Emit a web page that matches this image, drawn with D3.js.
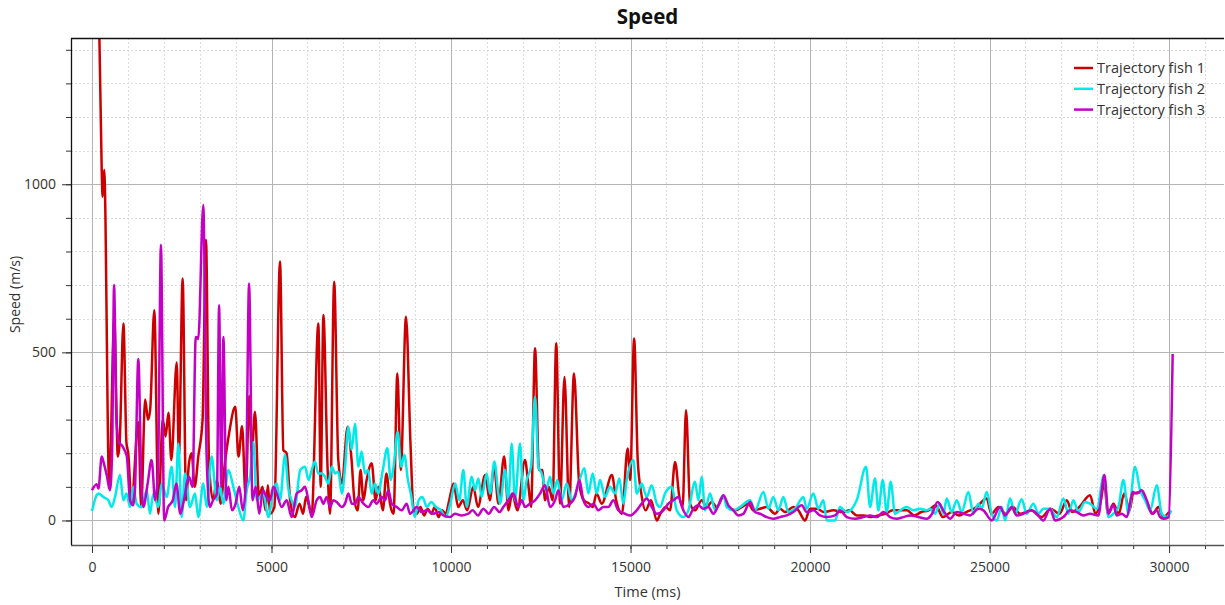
<!DOCTYPE html>
<html><head><meta charset="utf-8">
<script src="https://cdn.jsdelivr.net/npm/d3@7/dist/d3.min.js"></script>
<style>body{margin:0;background:#fff;} text{font-family:'Open Sans',sans-serif;}</style>
</head><body><svg id="chart" width="1225" height="605"></svg>
<script>
const chartTitle = "Speed";
const xAxisTitle = "Time (ms)";
const yAxisTitle = "Speed (m/s)";
const seriesNames = ["Trajectory fish 1", "Trajectory fish 2", "Trajectory fish 3"];
const seriesColors = ["#cc0000", "#00eaea", "#c400c4"];
const xMajorTicks = [0, 5000, 10000, 15000, 20000, 25000, 30000];
const yMajorTicks = [0, 500, 1000];

// [time ms, speed m/s]
const fish1 = [[130,1900],[270,1043],[295,963],[340,1043],[480,100],[620,600],[720,190],[770,230],[875,586],[960,230],[1010,200],[1100,50],[1290,293],[1370,40],[1480,360],[1560,300],[1620,330],[1735,625],[1850,20],[1970,300],[2050,250],[2130,320],[2210,180],[2360,470],[2420,190],[2525,720],[2620,60],[2700,170],[2775,200],[2860,100],[2960,190],[3080,300],[3175,835],[3260,170],[3370,60],[3480,120],[3580,50],[3700,170],[3820,260],[3990,338],[4080,190],[4180,280],[4280,70],[4380,370],[4450,200],[4540,323],[4650,70],[4750,100],[4830,30],[4900,105],[4960,20],[5080,40],[5237,770],[5330,209],[5420,200],[5520,60],[5650,10],[5780,50],[5880,20],[5960,70],[6120,20],[6305,586],[6370,100],[6445,611],[6560,160],[6630,20],[6745,710],[6860,180],[6960,110],[7120,279],[7230,180],[7310,60],[7400,30],[7480,150],[7560,60],[7650,120],[7790,170],[7900,60],[7980,100],[8100,30],[8200,140],[8300,50],[8400,20],[8505,437],[8600,150],[8746,606],[8870,230],[8950,40],[9050,20],[9150,40],[9250,15],[9350,35],[9450,20],[9550,40],[9650,10],[9750,30],[9850,20],[9950,60],[10070,110],[10200,40],[10330,60],[10450,30],[10620,100],[10750,40],[10950,135],[11080,60],[11200,160],[11320,50],[11480,190],[11600,30],[11700,80],[11850,30],[12060,180],[12150,110],[12230,40],[12340,512],[12450,150],[12540,150],[12620,60],[12720,100],[12830,60],[12930,527],[13036,50],[13160,427],[13290,40],[13425,437],[13570,110],[13700,60],[13850,50],[13950,40],[14050,80],[14200,50],[14480,135],[14600,60],[14760,20],[14920,214],[14990,120],[15100,541],[15200,180],[15300,80],[15420,30],[15570,60],[15730,0],[15830,20],[15980,40],[16100,30],[16240,174],[16360,70],[16450,40],[16546,328],[16657,50],[16797,30],[16983,60],[17122,40],[17261,55],[17400,40],[17586,70],[17725,40],[17911,30],[18097,40],[18282,50],[18421,30],[18607,35],[18793,40],[19025,20],[19164,35],[19304,25],[19536,40],[19675,30],[19861,0],[20000,35],[20200,35],[20380,25],[20650,30],[20900,25],[21100,30],[21300,15],[21500,15],[21700,10],[21900,15],[22100,20],[22300,30],[22500,30],[22700,30],[22900,15],[23100,25],[23300,30],[23500,45],[23700,10],[23950,25],[24150,15],[24350,25],[24640,40],[24920,65],[25050,20],[25250,40],[25450,20],[25650,40],[25850,20],[26150,30],[26450,10],[26700,35],[26950,20],[27150,60],[27300,25],[27500,40],[27800,75],[27950,20],[28100,60],[28190,110],[28300,20],[28450,50],[28600,20],[28750,80],[28900,30],[29000,80],[29240,85],[29400,50],[29550,20],[29700,40],[29840,10],[30000,25]];

const fish2 = [[0,28],[176,80],[316,70],[455,60],[548,40],[641,70],[780,135],[873,60],[966,80],[1058,40],[1151,100],[1244,50],[1383,40],[1523,90],[1616,20],[1708,80],[1848,40],[1941,110],[2080,70],[2219,160],[2312,40],[2405,229],[2498,10],[2591,140],[2730,40],[2869,80],[2962,10],[3101,110],[3194,40],[3333,190],[3473,60],[3565,100],[3658,50],[3798,150],[3937,100],[4076,40],[4215,0],[4308,90],[4401,130],[4494,233],[4587,60],[4773,80],[4912,10],[5051,90],[5144,110],[5237,60],[5376,195],[5460,100],[5560,60],[5650,40],[5800,150],[5935,160],[6030,120],[6120,150],[6212,175],[6300,140],[6400,140],[6490,130],[6580,110],[6680,160],[6770,140],[6860,145],[6960,80],[7050,160],[7140,279],[7230,210],[7326,288],[7420,160],[7510,205],[7600,140],[7690,150],[7790,80],[7880,110],[7970,80],[8100,150],[8227,215],[8320,120],[8400,160],[8514,264],[8610,160],[8700,195],[8800,120],[8880,80],[8990,10],[9100,60],[9200,70],[9330,40],[9450,55],[9580,40],[9720,30],[9850,10],[9980,50],[10115,110],[10230,60],[10344,150],[10437,41],[10576,130],[10669,90],[10762,125],[10855,70],[10994,140],[11086,80],[11207,175],[11318,80],[11365,50],[11504,150],[11597,60],[11690,229],[11782,60],[11922,229],[12015,60],[12107,120],[12228,160],[12340,368],[12432,160],[12525,140],[12646,90],[12758,130],[12850,80],[12962,120],[13083,60],[13222,110],[13361,60],[13500,90],[13714,155],[13825,80],[13946,140],[14057,80],[14150,120],[14290,70],[14429,100],[14568,80],[14688,125],[14800,50],[14893,120],[15080,180],[15172,80],[15311,110],[15450,70],[15590,105],[15729,50],[15822,40],[15961,80],[16147,100],[16286,30],[16472,10],[16611,30],[16797,115],[16890,60],[16983,130],[17075,30],[17214,80],[17354,30],[17586,75],[17679,40],[17865,30],[18050,40],[18329,60],[18468,30],[18700,85],[18840,35],[18979,70],[19118,30],[19257,70],[19396,25],[19582,35],[19814,70],[19907,35],[20093,80],[20232,35],[20372,60],[20464,0],[20696,0],[20836,40],[21021,25],[21300,60],[21560,160],[21671,40],[21810,125],[21903,30],[22024,120],[22135,25],[22247,115],[22367,20],[22507,30],[22693,40],[22879,30],[23064,35],[23250,30],[23343,35],[23482,20],[23621,50],[23714,20],[23807,65],[23946,25],[24086,60],[24225,25],[24410,85],[24550,20],[24689,50],[24782,35],[24921,85],[25060,20],[25200,0],[25339,40],[25432,0],[25571,65],[25710,20],[25896,63],[26035,20],[26221,50],[26360,20],[26500,35],[26685,35],[26871,10],[27057,65],[27196,20],[27335,60],[27474,25],[27660,55],[27799,50],[27985,35],[28189,135],[28310,10],[28450,20],[28589,40],[28728,120],[28868,20],[29053,160],[29192,90],[29332,60],[29471,30],[29657,105],[29796,20],[29935,10],[30060,30]];

const fish3 = [[0,90],[130,108],[180,95],[270,190],[330,170],[410,135],[500,90],[560,200],[615,700],[680,300],[760,230],[830,224],[900,210],[970,190],[1060,60],[1150,45],[1200,100],[1290,480],[1380,100],[1430,40],[1550,110],[1660,180],[1760,60],[1840,150],[1920,820],[2010,0],[2120,40],[2250,60],[2350,110],[2460,20],[2560,60],[2700,130],[2800,100],[2890,546],[2960,540],[3100,938],[3190,200],[3280,40],[3370,60],[3480,80],[3540,640],[3600,100],[3660,546],[3740,60],[3800,100],[3900,30],[4000,50],[4100,100],[4200,30],[4290,120],[4375,705],[4470,60],[4560,100],[4660,20],[4760,90],[4860,70],[4958,60],[5051,100],[5144,80],[5283,40],[5422,60],[5562,10],[5701,80],[5840,90],[5933,100],[6026,60],[6119,10],[6258,60],[6351,70],[6444,50],[6537,70],[6630,40],[6723,60],[6815,55],[6955,40],[7048,50],[7141,80],[7234,50],[7327,50],[7419,70],[7559,50],[7698,40],[7837,60],[7930,50],[8069,70],[8162,60],[8255,90],[8348,50],[8487,40],[8626,30],[8765,50],[8858,20],[9044,40],[9183,25],[9322,30],[9508,20],[9647,25],[9786,15],[9972,10],[10111,20],[10297,15],[10483,20],[10600,30],[10750,15],[10900,35],[11050,20],[11200,40],[11350,25],[11458,40],[11597,60],[11736,80],[11875,40],[11968,60],[12061,40],[12200,50],[12340,60],[12479,80],[12618,105],[12758,40],[12897,60],[12990,90],[13129,40],[13315,50],[13454,70],[13575,120],[13686,60],[13825,40],[13965,50],[14104,30],[14243,40],[14382,40],[14522,60],[14661,30],[14847,20],[14986,15],[15172,30],[15311,50],[15450,65],[15590,40],[15729,20],[15914,30],[16054,50],[16193,60],[16332,70],[16472,30],[16611,10],[16750,35],[16890,45],[17029,35],[17168,40],[17307,20],[17447,45],[17586,75],[17725,45],[17865,30],[18004,15],[18143,20],[18329,55],[18468,25],[18607,20],[18793,10],[18979,5],[19164,10],[19350,15],[19536,25],[19768,45],[19907,25],[20093,30],[20279,15],[20464,10],[20696,15],[20836,30],[21021,10],[21253,5],[21486,10],[21671,15],[21857,10],[22043,25],[22228,10],[22414,5],[22600,10],[22786,15],[23018,10],[23250,5],[23400,20],[23552,55],[23738,25],[23900,5],[24086,25],[24271,20],[24457,15],[24689,35],[24828,30],[25060,0],[25293,40],[25432,15],[25617,40],[25757,15],[25942,20],[26175,30],[26314,20],[26500,0],[26685,35],[26825,0],[27057,10],[27242,30],[27428,25],[27614,15],[27799,20],[28031,15],[28198,135],[28310,20],[28450,45],[28543,15],[28682,20],[28821,10],[28988,85],[29100,80],[29240,90],[29379,60],[29518,20],[29657,30],[29750,10],[29843,5],[29990,10],[30100,495]];

const seriesData = [fish1, fish2, fish3];

const m = {left: 71, right: 1224, top: 38, bottom: 545};
const svg = d3.select("#chart");
const x = d3.scaleLinear().domain([-585, 31530]).range([m.left, m.right]);
const y = d3.scaleLinear().domain([-73, 1435]).range([m.bottom, m.top]);

const xMinor = d3.range(0, 31001, 1000);
const yMinor = d3.range(0, 1401, 100);

// grid
const grid = svg.append("g");
grid.selectAll(".vmin").data(xMinor.filter(d => !xMajorTicks.includes(d))).join("line")
  .attr("x1", d => Math.round(x(d)) + 0.5).attr("x2", d => Math.round(x(d)) + 0.5).attr("y1", m.top).attr("y2", m.bottom)
  .attr("stroke", "#dcdcdc").attr("stroke-dasharray", "2,2").attr("stroke-width", 1);
grid.selectAll(".hmin").data(yMinor.filter(d => !yMajorTicks.includes(d))).join("line")
  .attr("y1", d => Math.round(y(d)) + 0.5).attr("y2", d => Math.round(y(d)) + 0.5).attr("x1", m.left).attr("x2", m.right)
  .attr("stroke", "#dcdcdc").attr("stroke-dasharray", "2,2").attr("stroke-width", 1);
grid.selectAll(".vmaj").data(xMajorTicks).join("line")
  .attr("x1", d => Math.round(x(d)) + 0.5).attr("x2", d => Math.round(x(d)) + 0.5).attr("y1", m.top).attr("y2", m.bottom)
  .attr("stroke", "#b4b4b4").attr("stroke-width", 1);
grid.selectAll(".hmaj").data(yMajorTicks).join("line")
  .attr("y1", d => Math.round(y(d)) + 0.5).attr("y2", d => Math.round(y(d)) + 0.5).attr("x1", m.left).attr("x2", m.right)
  .attr("stroke", "#b4b4b4").attr("stroke-width", 1);

// series
svg.append("clipPath").attr("id", "clip").append("rect")
  .attr("x", m.left).attr("y", m.top).attr("width", m.right - m.left).attr("height", m.bottom - m.top);
const line = d3.line().x(d => x(d[0])).y(d => y(d[1])).curve(d3.curveMonotoneX);
const plot = svg.append("g").attr("clip-path", "url(#clip)");
seriesData.forEach((s, i) => {
  plot.append("path").datum(s).attr("d", line).attr("fill", "none")
    .attr("stroke", seriesColors[i]).attr("stroke-width", 2.5).attr("stroke-linejoin", "round");
});

// axes
const xAxisMinor = d3.axisBottom(x).tickValues(xMinor).tickSize(4).tickFormat("");
const xAxis = d3.axisBottom(x).tickValues(xMajorTicks).tickSize(8).tickPadding(9).tickFormat(d3.format("d"));
const yAxisMinor = d3.axisLeft(y).tickValues(yMinor).tickSize(5).tickFormat("");
const yAxis = d3.axisLeft(y).tickValues(yMajorTicks).tickSize(9).tickPadding(6).tickFormat(d3.format("d"));

const gx = svg.append("g").attr("transform", `translate(0,${m.bottom})`);
gx.call(xAxisMinor); gx.append("g").call(xAxis);
gx.selectAll(".domain").remove();
gx.selectAll("line").attr("stroke", "#333");
gx.selectAll("text").attr("font-size", 14).attr("fill", "#333").attr("font-family", "'Open Sans',sans-serif");
svg.append("line").attr("x1", m.left).attr("x2", m.right).attr("y1", m.bottom + 0.5).attr("y2", m.bottom + 0.5)
  .attr("stroke", "#555").attr("stroke-width", 1.6);

const gy = svg.append("g").attr("transform", `translate(${m.left},0)`);
gy.call(yAxisMinor); gy.append("g").call(yAxis);
gy.selectAll(".domain").remove();
gy.selectAll("line").attr("stroke", "#333");
gy.selectAll("text").attr("font-size", 14).attr("fill", "#333").attr("font-family", "'Open Sans',sans-serif");
svg.append("line").attr("x1", m.left + 0.5).attr("x2", m.left + 0.5).attr("y1", m.top).attr("y2", m.bottom)
  .attr("stroke", "#111").attr("stroke-width", 1.3);
svg.append("line").attr("x1", m.left).attr("x2", m.right).attr("y1", m.top + 0.5).attr("y2", m.top + 0.5)
  .attr("stroke", "#111").attr("stroke-width", 1.3);

// titles
svg.append("text").attr("x", (m.left + m.right) / 2).attr("y", 24).attr("text-anchor", "middle")
  .attr("font-size", 20.5).attr("font-weight", "bold").attr("fill", "#111").text(chartTitle);
svg.append("text").attr("x", (m.left + m.right) / 2).attr("y", 597).attr("text-anchor", "middle")
  .attr("font-size", 14.5).attr("fill", "#333").text(xAxisTitle);
svg.append("text").attr("transform", `translate(20,${(m.top + m.bottom) / 2 + 3}) rotate(-90)`)
  .attr("text-anchor", "middle").attr("font-size", 14).attr("fill", "#333").text(yAxisTitle);

// legend
const lg = svg.append("g");
seriesNames.forEach((n, i) => {
  const ly = 68 + i * 20.8;
  lg.append("line").attr("x1", 1074).attr("x2", 1093).attr("y1", ly).attr("y2", ly)
    .attr("stroke", seriesColors[i]).attr("stroke-width", 2.5);
  lg.append("text").attr("x", 1097).attr("y", ly + 5).attr("font-size", 14.5).attr("fill", "#333").text(n);
});
</script></body></html>
